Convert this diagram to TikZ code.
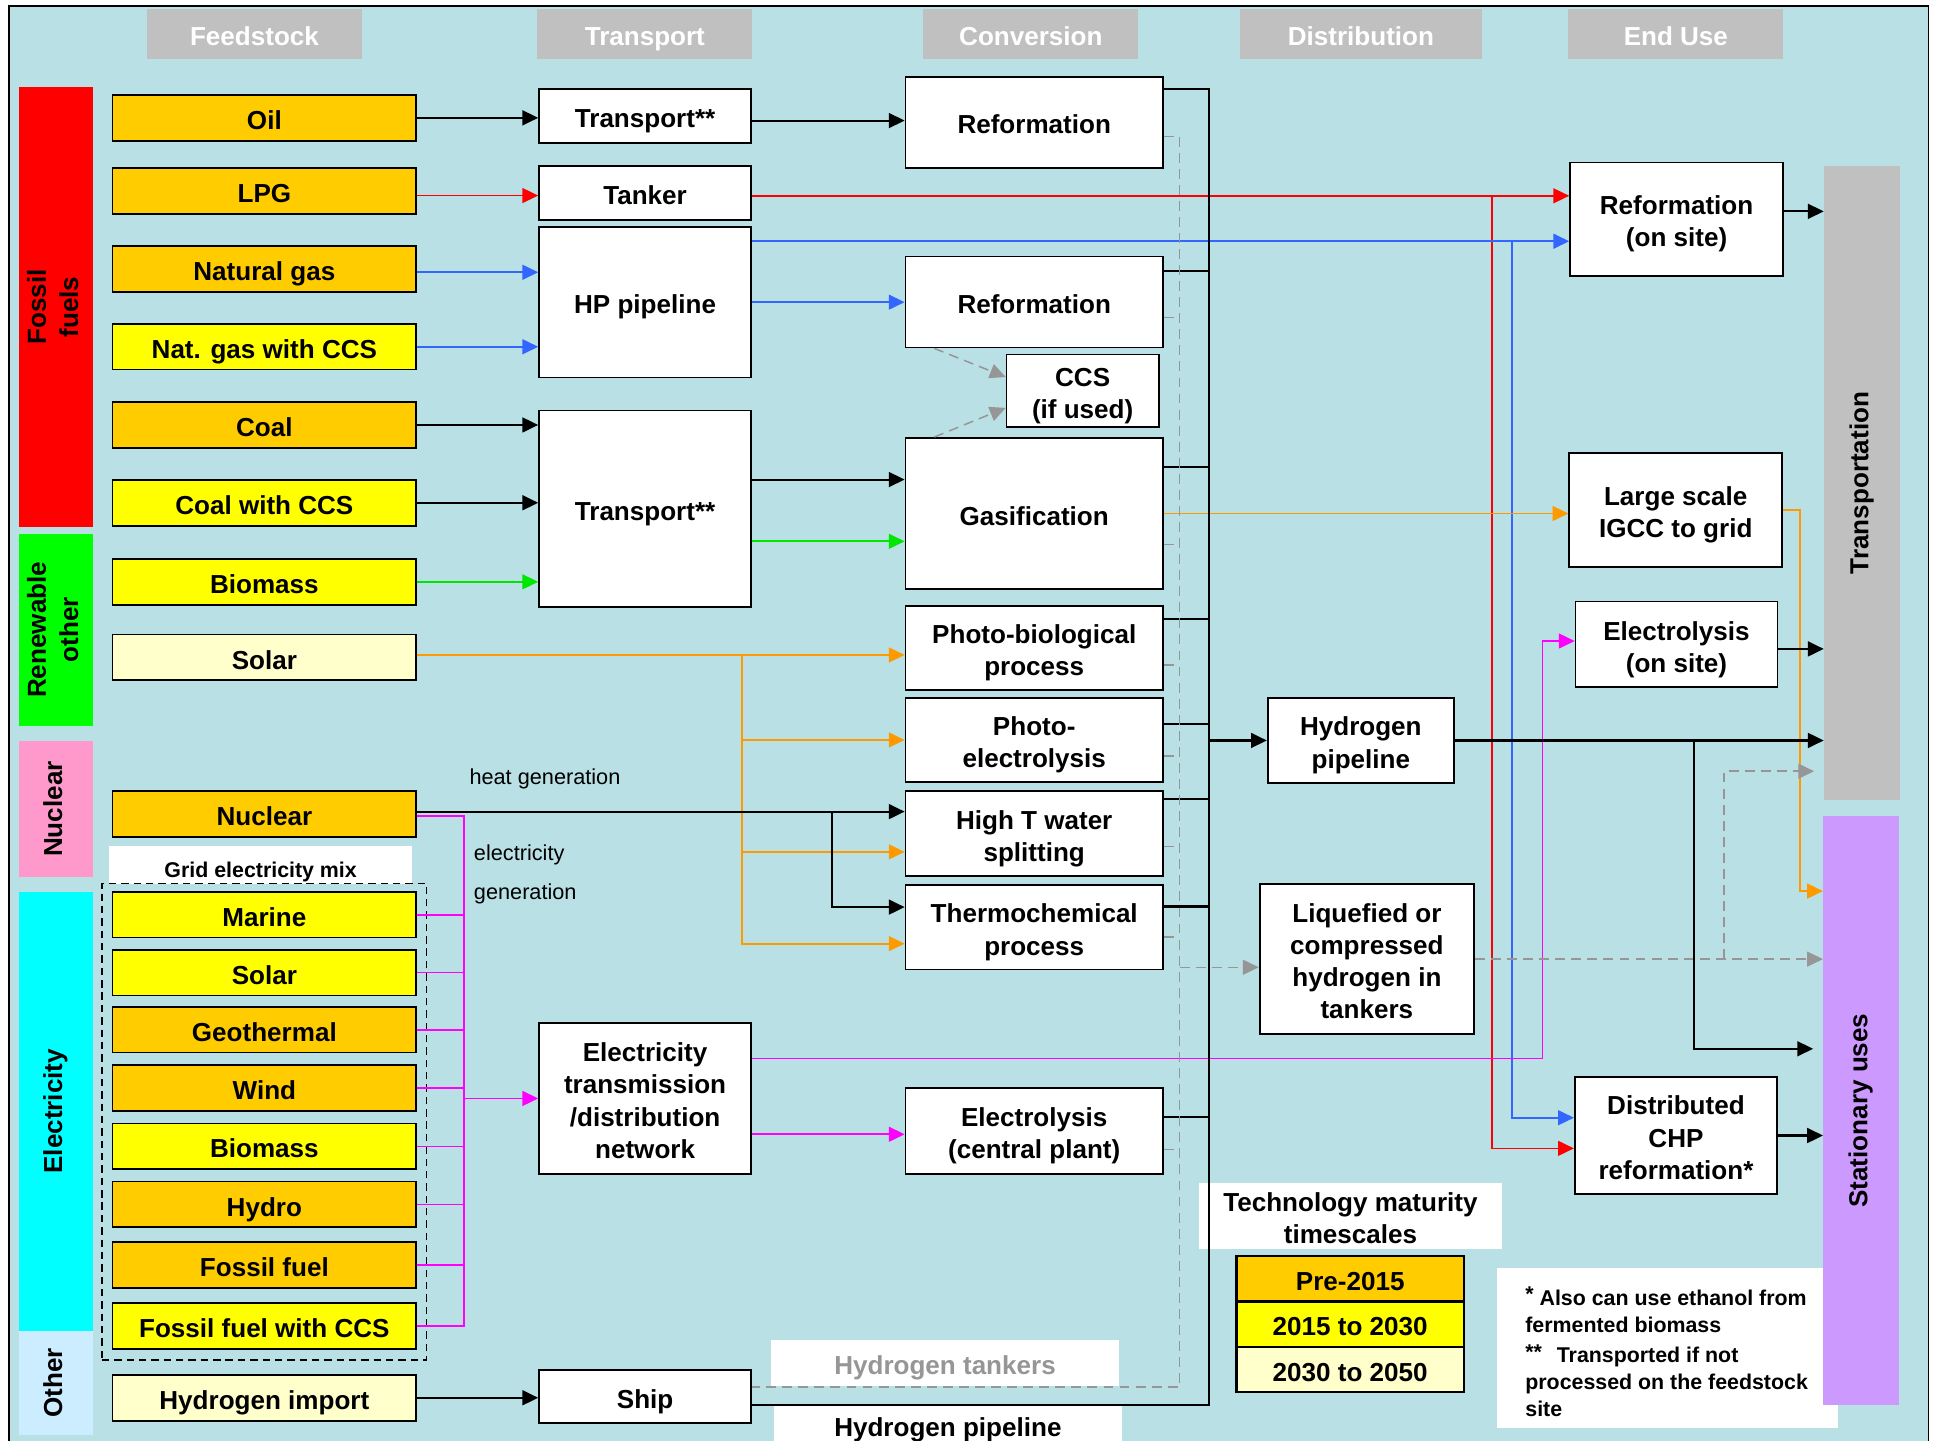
\documentclass[tikz,border=0pt]{standalone}
\usepackage{graphicx}
\usepackage{fontspec}
\setmainfont{Liberation Sans}
\usetikzlibrary{arrows.meta}

\definecolor{sky}{RGB}{185,224,228}
\definecolor{headgray}{RGB}{192,192,192}
\definecolor{early}{HTML}{FFCC00}
\definecolor{middle}{HTML}{FFFF00}
\definecolor{later}{HTML}{FFFFCC}
\definecolor{fossilred}{HTML}{FF0000}
\definecolor{renewgreen}{HTML}{00FF00}
\definecolor{nucpink}{HTML}{FF99CC}
\definecolor{eleccyan}{HTML}{00FFFF}
\definecolor{otherblue}{HTML}{CCECFF}
\definecolor{statviolet}{HTML}{CC99FF}
\definecolor{lpgred}{HTML}{FF0000}
\definecolor{gasblue}{HTML}{3366FF}
\definecolor{biogreen}{HTML}{00E600}
\definecolor{sunorange}{HTML}{FF9900}
\definecolor{powmagenta}{HTML}{FF00FF}
\definecolor{tankgray}{RGB}{150,150,150}

\newcommand{\sidetext}[1]{\rotatebox{90}{\begin{tabular}{@{}c@{}}#1\end{tabular}}}
\newcommand{\boxstrut}{\rule[-0.21em]{0pt}{1.31em}}

\begin{document}
\begin{tikzpicture}[x=0.25mm, y=-0.25mm,
  lbl/.style={font=\bfseries\fontsize{15}{18.5}\selectfont, align=center, inner sep=0pt},
  txt/.style={lbl, execute at begin node=\boxstrut, execute at end node=\boxstrut},
  box/.style={txt, draw, fill=white, line width=1pt},
  feed/.style={box, minimum width=61.5mm, minimum height=9.25mm},
  trans/.style={box, minimum width=42.9mm},
  conv/.style={box, minimum width=52.1mm, minimum height=17.1mm},
  head/.style={txt, fill=headgray, text=white, minimum width=43.5mm, minimum height=10.25mm},
  sidebar/.style={lbl, minimum width=15mm},
  legend/.style={box, line width=1.3pt, minimum width=46mm, minimum height=9.2mm},
  wire/.style={line width=1.2pt},
  flow/.style={wire, -{Triangle[length=3.2mm,width=3mm]}},
  tint/.style={line width=1pt},
  tank/.style={tankgray, line width=0.85pt, dash pattern=on 2mm off 1.25mm},
  tankflow/.style={tank, -{Triangle[length=3.2mm,width=3mm]}},
  note/.style={font=\fontsize{12.5}{15}\selectfont, inner sep=0pt, anchor=west}]

% page and frame
\useasboundingbox (0,0) rectangle (1568,1166);
\fill[white] (0,0) rectangle (1568,1166);
\draw[line width=1pt, fill=sky] (7,4.6) rectangle (1561,1175);

% column heads
\node[head] (hfeed) at (206,27.5) {Feedstock};
\node[head] (htrans) at (522,27.5) {Transport};
\node[head] (hconv) at (834.5,27.5) {Conversion};
\node[head, minimum width=49mm] (hdist) at (1101.7,27.5) {Distribution};
\node[head] (hend) at (1356.6,27.5) {End Use};

% source groups
\node[sidebar, fill=fossilred, minimum height=89mm] (fossil) at (45,248.5) {\sidetext{Fossil\\fuels}};
\node[sidebar, fill=renewgreen, minimum height=38.9mm] (renew) at (45,509.8) {\sidetext{Renewable\\other}};
\node[sidebar, fill=nucpink, minimum height=27.5mm] (nucbar) at (45,655) {\sidetext{Nuclear}};
\node[sidebar, fill=eleccyan, minimum height=88.9mm] (elecbar) at (45,899.6) {\sidetext{Electricity}};
\node[sidebar, fill=otherblue, minimum height=21mm] (otherbar) at (45,1119.6) {\sidetext{Other}};

% feedstock
\node[feed, fill=early] (oil) at (214,95.4) {Oil};
\node[feed, fill=early] (lpg) at (214,154.7) {LPG};
\node[feed, fill=early] (ngas) at (214,217.6) {Natural gas};
\node[feed, fill=middle] (ngccs) at (214,280.7) {Nat. gas with CCS};
\node[feed, fill=early] (coal) at (214,344) {Coal};
\node[feed, fill=middle] (coalccs) at (214,407) {Coal with CCS};
\node[feed, fill=middle] (biomass) at (214,471) {Biomass};
\node[feed, fill=later] (solar) at (214,532.2) {Solar};
\node[feed, fill=early] (nuclear) at (214,658.8) {Nuclear};

\node[fill=white, minimum width=61.3mm, minimum height=7.5mm] (mixbox) at (211,700.2) {};
\node[font=\bfseries\fontsize{12.3}{14}\selectfont, inner sep=0pt] (mixlbl) at (211,705.5) {Grid electricity mix};
\node[draw, line width=0.8pt, dash pattern=on 1.5mm off 1mm, minimum width=65.7mm, minimum height=96.5mm] (mix) at (213.9,908) {};

\node[feed, fill=middle] (marine) at (214,740.4) {Marine};
\node[feed, fill=middle] (esolar) at (214,787.3) {Solar};
\node[feed, fill=early] (geo) at (214,833.5) {Geothermal};
\node[feed, fill=early] (wind) at (214,880.9) {Wind};
\node[feed, fill=middle] (ebiomass) at (214,928) {Biomass};
\node[feed, fill=early] (hydro) at (214,975) {Hydro};
\node[feed, fill=early] (ffuel) at (214,1024) {Fossil fuel};
\node[feed, fill=middle] (ffccs) at (214,1073.5) {Fossil fuel with CCS};
\node[feed, fill=later] (h2import) at (214,1131.5) {Hydrogen import};

% transport
\node[trans, minimum height=10.85mm] (haul) at (522.2,94) {Transport**};
\node[trans, minimum height=10.85mm] (tanker) at (522.2,156.1) {Tanker};
\node[trans, minimum height=30.5mm] (hppipe) at (522.2,244.6) {HP pipeline};
\node[trans, minimum height=39.75mm] (bulk) at (522.2,411.8) {Transport**};
\node[trans, minimum height=30.6mm] (grid) at (522.2,889.2) {\boxstrut Electricity\\transmission\\/distribution\\network};
\node[trans, minimum height=10.75mm] (ship) at (522.2,1130.5) {Ship};

% conversion
\node[conv, minimum height=18.4mm] (reform) at (837.2,99) {Reformation};
\node[conv, minimum height=18.4mm] (reformhp) at (837.2,244.5) {Reformation};
\node[box, minimum width=30.8mm, minimum height=14.6mm] (ccs) at (876.4,316.2) {\boxstrut CCS\\(if used)};
\node[conv, minimum height=30.6mm] (gasify) at (837.2,415.7) {Gasification};
\node[conv] (photobio) at (837.2,524.6) {\boxstrut Photo-biological\\process};
\node[conv] (photoel) at (837.2,599) {\boxstrut Photo-\\electrolysis};
\node[conv] (splitting) at (837.2,674.8) {\boxstrut High T water\\splitting};
\node[conv] (thermo) at (837.2,750.7) {\boxstrut Thermochemical\\process};
\node[conv, minimum height=17.35mm] (electro) at (837.2,915.7) {\boxstrut Electrolysis\\(central plant)};

% distribution
\node[box, minimum width=37.7mm, minimum height=17.3mm] (h2pipe) at (1101.6,599.4) {\boxstrut Hydrogen\\pipeline};
\node[box, minimum width=43.4mm, minimum height=30.3mm] (liquid) at (1106.5,776.4) {\boxstrut Liquefied or\\compressed\\hydrogen in\\tankers};

% end use
\node[box, minimum width=43.1mm, minimum height=23mm] (onsite) at (1357.2,177.5) {\boxstrut Reformation\\(on site)};
\node[box, minimum width=43.1mm, minimum height=23mm] (igcc) at (1356.5,413) {\boxstrut Large scale\\IGCC to grid};
\node[box, minimum width=40.85mm, minimum height=17.35mm] (elsite) at (1357.1,521.7) {\boxstrut Electrolysis\\(on site)};
\node[box, minimum width=40.95mm, minimum height=23.8mm] (chp) at (1356.7,919.2) {\boxstrut Distributed\\CHP\\reformation*};

% legend and notes
\node[txt, fill=white, minimum width=61.2mm, minimum height=12.25mm] (maturity) at (1093.2,984.5) {\boxstrut Technology maturity\\timescales};
\node[legend, fill=early] (pre) at (1093,1035.3) {Pre-2015};
\node[legend, fill=middle] (mid) at (1093,1071.9) {2015 to 2030};
\node[legend, fill=later] (late) at (1093,1108.7) {2030 to 2050};
\node[fill=white, minimum width=69mm, minimum height=32.35mm] (footbox) at (1350,1091.3) {};
\node[font=\bfseries\fontsize{12.3}{15.6}\selectfont, align=left, anchor=north west, inner sep=0pt] (foottext) at (1234.5,1041.5)
  {\raisebox{2pt}{*} Also can use ethanol from\\fermented biomass\\[2pt]\raisebox{2pt}{**}\hspace{3mm}Transported if not\\processed on the feedstock\\site};
\node[txt, fill=white, text=tankgray, minimum width=70.25mm, minimum height=9.25mm] (tanklbl) at (765,1103.5) {Hydrogen tankers};
\node[txt, fill=white, minimum width=70.35mm, minimum height=8.4mm] (pipelbl) at (767.3,1153.6) {Hydrogen pipeline};

% end use groups
\node[sidebar, fill=headgray, minimum width=15.35mm, minimum height=128.3mm] (transp) at (1507.3,391) {\sidetext{Transportation}};
\node[sidebar, fill=statviolet, minimum width=15.25mm, minimum height=119.2mm] (stat) at (1506.5,899) {\sidetext{Stationary uses}};

% route labels
\node[note] (heat) at (379.8,630.6) {heat generation};
\node[note] (elecone) at (383.4,692) {electricity};
\node[note] (electwo) at (383.4,724) {generation};

% junction columns
\coordinate (redx) at (1208,0);
\coordinate (bluex) at (1224,0);
\coordinate (orangex) at (1457,0);
\coordinate (sunx) at (600.4,0);
\coordinate (heatx) at (673.5,0);
\coordinate (gridx) at (375.5,0);
\coordinate (magx) at (1248.7,0);
\coordinate (busx) at (979,0);
\coordinate (tankx) at (955,0);
\coordinate (liqx) at (1395.5,0);
\coordinate (pipex) at (1371,0);

% fossil routes
\draw[flow] (oil.east) -- (oil.east -| haul.west);
\draw[flow] ([yshift=-0.9mm]haul.east) -- ([yshift=-0.9mm]haul.east -| reform.west);
\draw[flow, tint, lpgred] ([yshift=-0.9mm]lpg.east) -- ([yshift=-0.9mm]lpg.east -| tanker.west);
\draw[flow, tint, lpgred] ([yshift=-0.6mm]tanker.east) -- ([yshift=-0.6mm]tanker.east -| onsite.west);
\draw[flow, tint, lpgred] ([yshift=-0.6mm]tanker.east -| redx) |- ([yshift=-2.6mm]chp.west);
\draw[flow, tint, gasblue] ([yshift=-0.7mm]ngas.east) -- ([yshift=-0.7mm]ngas.east -| hppipe.west);
\draw[flow, tint, gasblue] (ngccs.east) -- (ngccs.east -| hppipe.west);
\draw[flow, tint, gasblue] ([yshift=-3.1mm]hppipe.north east) -- ([yshift=-3.1mm]hppipe.north east -| onsite.west);
\draw[flow, tint, gasblue] ([yshift=-3.1mm]hppipe.north east -| bluex) |- ([yshift=3.6mm]chp.west);
\draw[flow, tint, gasblue] (hppipe.east) -- (hppipe.east -| reformhp.west);
\draw[flow] (coal.east) -- (coal.east -| bulk.west);
\draw[flow] (coalccs.east) -- (coalccs.east -| bulk.west);
\draw[flow, tint, biogreen] (biomass.east) -- (biomass.east -| bulk.west);
\draw[flow] ([yshift=5.9mm]bulk.east) -- ([yshift=5.9mm]bulk.east -| gasify.west);
\draw[flow, tint, biogreen] ([yshift=-6.6mm]bulk.east) -- ([yshift=-6.6mm]bulk.east -| gasify.west);
\draw[flow, tint, sunorange] (gasify.east) -- (gasify.east -| igcc.west);
\draw[flow, tint, sunorange] (igcc.east) -- (igcc.east -| orangex) |- ([yshift=-15.25mm]stat.north west);

% solar and nuclear
\draw[flow, tint, sunorange] ([yshift=0.5mm]solar.east) -- ([yshift=0.5mm]solar.east -| photobio.west);
\draw[flow, tint, sunorange] ([yshift=0.5mm]solar.east -| sunx) |- (photoel.west);
\draw[flow, tint, sunorange] ([yshift=0.5mm]solar.east -| sunx) |- ([yshift=-3.7mm]splitting.west);
\draw[flow, tint, sunorange] ([yshift=0.5mm]solar.east -| sunx) |- ([yshift=-3.3mm]thermo.west);
\draw[flow] ([yshift=0.45mm]nuclear.east) -- ([yshift=0.45mm]nuclear.east -| splitting.west);
\draw[flow] ([yshift=0.45mm]nuclear.east -| heatx) |- ([yshift=4.1mm]thermo.west);

% electricity
\draw[wire, tint, powmagenta] ([yshift=-0.45mm]nuclear.east) -| (ffccs.east -| gridx) -- (ffccs.east);
\foreach \src in {marine, esolar, geo, wind, ebiomass, hydro, ffuel}
  \draw[wire, tint, powmagenta] (\src.east) -- (\src.east -| gridx);
\draw[flow, tint, powmagenta] (grid.west -| gridx) -- (grid.west);
\draw[flow, tint, powmagenta] ([yshift=-7.25mm]grid.east) -- ([yshift=-7.25mm]grid.east -| electro.west);
\draw[flow, tint, powmagenta] ([yshift=8.1mm]grid.east) -| ([yshift=0.7mm]elsite.west -| magx) -- ([yshift=0.7mm]elsite.west);
\draw[flow] (h2import.east) -- (h2import.east -| ship.west);

% hydrogen pipeline bus
\draw[wire] ([yshift=-2.7mm]reform.north east) -| ([yshift=-1.7mm]ship.east -| busx) -- ([yshift=-1.7mm]ship.east);
\foreach \stage/\drop in {reformhp/-3.1mm, gasify/-6mm, photobio/-2.9mm, photoel/-5.5mm, splitting/-1.75mm, thermo/-4.5mm, electro/-6mm}
  \draw[wire] ([yshift=\drop]\stage.north east) -- ([yshift=\drop]\stage.north east -| busx);
\draw[flow] (h2pipe.west -| busx) -- (h2pipe.west);

% hydrogen tanker bus
\draw[tank] ([yshift=6.5mm]reform.south east) -| ([yshift=1.9mm]ship.east -| tankx) -- ([yshift=1.9mm]ship.east);
\foreach \stage/\rise in {reformhp/6.2mm, gasify/9.2mm, photobio/5.25mm, photoel/5.5mm, splitting/6.1mm, thermo/6.8mm, electro/5.2mm}
  \draw[tank] ([yshift=\rise]\stage.south east) -- ([yshift=\rise]\stage.south east -| tankx);
\draw[tankflow] ([yshift=-1.65mm]liquid.west -| tankx) -- ([yshift=-1.65mm]liquid.west);
\draw[tankflow] ([xshift=6mm]reformhp.south west) -- ([yshift=2.75mm]ccs.west);
\draw[tankflow] ([xshift=6mm]gasify.north west) -- ([yshift=-3.5mm]ccs.west);

% to end uses
\draw[tankflow] (liquid.east) -- (liquid.east -| stat.west);
\draw[tankflow] (liquid.east -| liqx) |- ([xshift=-1.95mm, yshift=5.9mm]transp.south west);
\draw[flow] (h2pipe.east) -- (h2pipe.east -| transp.west);
\draw[flow] (h2pipe.east -| pipex) |- ([xshift=-2mm, yshift=12.5mm]stat.west);
\draw[flow] ([yshift=1.6mm]onsite.east) -- ([yshift=1.6mm]onsite.east -| transp.west);
\draw[flow] ([yshift=-0.9mm]elsite.east) -- ([yshift=-0.9mm]elsite.east -| transp.west);
\draw[flow] (chp.east) -- (chp.east -| stat.west);
\end{tikzpicture}
\end{document}
